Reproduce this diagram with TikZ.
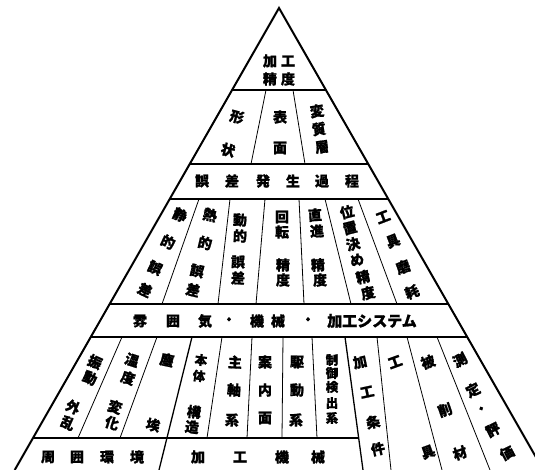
\documentclass[tikz,border=0pt]{standalone}
\usepackage{fontspec}
\newfontfamily\jp{Noto Sans CJK JP}[BoldFeatures={FakeBold=1.2}]
\tikzset{
  jc/.style={font=\jp\bfseries\fontsize{14}{14}\selectfont, inner sep=0pt},
  jcs/.style={font=\jp\bfseries\fontsize{12.5}{12.5}\selectfont, inner sep=0pt},
  jcb/.style={font=\jp\bfseries\fontsize{15}{15}\selectfont, inner sep=0pt},
  side/.style={line width=2pt, line join=miter},
  band/.style={line width=2.2pt},
  thinline/.style={line width=0.8pt},
  midline/.style={line width=1.3pt}
}
\begin{document}
\begin{tikzpicture}[x=1pt,y=-1pt]
\useasboundingbox (0,0) rectangle (535,470);
\clip (0,0) rectangle (535,470);
% triangle
\draw[side] (14.7,470) -- (279,8) -- (543.3,470);
% horizontal band lines
\draw[line width=1.8pt] (232.1,90) -- (325.9,90);
\draw[band] (189.8,164) -- (368.2,164);
\draw[band] (169.7,199) -- (388.3,199);
\draw[band] (109.7,304) -- (448.3,304);
\draw[band] (90.8,337) -- (467.2,337);
\draw[midline] (33.0,438) -- (358,438);
% row 2 dividers
\draw[thinline] (266,90) -- (251,164);
\draw[thinline] (293,90) -- (305,164);
% row 4 dividers
\draw[thinline] (199,199) -- (162,304);
\draw[thinline] (230,199) -- (218,304);
\draw[thinline] (265,199) -- (256,304);
\draw[thinline] (299,199) -- (304,304);
\draw[thinline] (325,199) -- (351,304);
\draw[thinline] (358,199) -- (397,304);
% row 6 dividers
\draw[thinline] (122,337) -- (78,438);
\draw[thinline] (157,337) -- (120,438);
\draw[midline] (192,337) -- (159,470);
\draw[thinline] (222,337) -- (207,438);
\draw[thinline] (252,337) -- (247,438);
\draw[thinline] (283,337) -- (282,438);
\draw[thinline] (312,337) -- (317,438);
\draw[midline] (345,337) -- (363,470);
\draw[thinline] (377,337) -- (391,470);
\draw[thinline] (407,337) -- (442,470);
\draw[thinline] (437,337) -- (490,470);
% row 1
\foreach \ch/\x/\y [count=\i] in {加/270/61,工/288/61,精/270/79,度/288/79}
  \node[jc] (ra\i) at (\x,\y) {\ch};
% row 2
\foreach \ch/\x/\y/\r [count=\i] in {形/237/117/-15,状/228/150/-15,表/280/117/0,面/280/148/0,変/317/111/8,質/319/129/8,層/322/147/8}
  \node[jc, rotate=\r] (rb\i) at (\x,\y) {\ch};
% row 3
\foreach \ch/\x [count=\i] in {誤/202,差/232,発/263,生/293,過/322,程/352}
  \node[jc] (rc\i) at (\x,181) {\ch};
% row 4
\foreach \ch/\x/\y/\r [count=\i] in {
  静/180/215/-25,的/168/242/-25,誤/155/268/-25,差/145/290/-25,
  熱/210/215/-13,的/205/243/-13,誤/197/271/-13,差/193/290/-13,
  動/240/220/-2,的/240/236/-2,誤/238/262/-2,差/238/278/-2,
  回/282/217/0,転/282/232/0,精/283/265/0,度/283/280/0,
  直/315/215/3,進/317/231/3,精/318/265/3,度/320/280/3,
  位/347/212/14,置/350/228/14,決/353/244/14,め/357/260/14,精/363/277/14,度/368/293/14,
  工/383/217/21,具/393/241/21,磨/403/267/21,耗/412/292/21}
  \node[jc, rotate=\r] (rd\i) at (\x,\y) {\ch};
% row 5
\foreach \ch/\x [count=\i] in {雰/140,囲/173,気/205,・/229,機/257,械/278,・/308}
  \node[jc] (re\i) at (\x,321) {\ch};
\node[jcb] (re8) at (372,321) {加工システム};
% row 6
\foreach \ch/\x/\y/\r [count=\i] in {
  振/95/362/-24,動/90/378/-24,外/73/407/-24,乱/68/423/-24,
  温/132/360/-18,度/128/378/-18,変/115/407/-18,化/112/423/-18,
  塵/167/360/-12,埃/153/425/-12,
  構/194/412/-7,造/192/427/-7,
  主/235/362/-3,軸/234/390/-3,系/232/420/-3,
  案/265/362/0,内/265/390/0,面/265/418/0,
  駆/297/362/0,動/297/390/0,系/296/420/0,
  加/360/362/12,工/367/392/12,条/373/422/12,件/378/449/12,
  工/395/362/20,具/428/452/20,
  被/428/362/19,削/445/410/19,材/460/453/19,
  測/460/360/27,定/473/390/27,・/482/410/27,評/493/430/27,価/507/453/27}
  \node[jc, rotate=\r] (rf\i) at (\x,\y) {\ch};
\node[jcs, rotate=-7] (rk1) at (201,360) {本};
\node[jcs, rotate=-7] (rk2) at (199,376) {体};
\foreach \ch/\y [count=\i] in {制/360,御/373,検/387,出/403,系/418}
  \node[jcs] (rg\i) at (332,\y) {\ch};
% row 7
\foreach \ch/\x [count=\i] in {周/48,囲/77,環/107,境/137,加/198,工/240,機/282,械/318}
  \node[jc] (rh\i) at (\x,457) {\ch};
\end{tikzpicture}
\end{document}
